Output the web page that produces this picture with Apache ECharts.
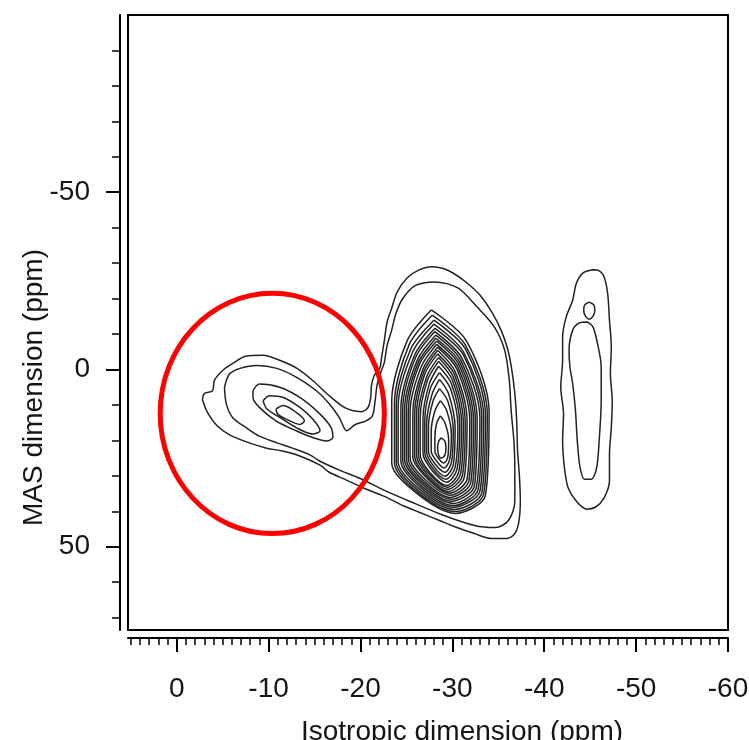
<!DOCTYPE html>
<html><head><meta charset="utf-8">
<script src="https://cdn.jsdelivr.net/npm/echarts@6/dist/echarts.min.js"></script>
<style>html,body{margin:0;padding:0;background:#fff}#c{width:749px;height:740px}</style>
</head><body><div id="c"></div>
<script>
// ---- axis ticks (ppm) ----
const xTicksMajor = [-60, -50, -40, -30, -20, -10, 0];
const xTicksMinor = [-60,-59,-58,-57,-56,-55,-54,-53,-52,-51,-50,-49,-48,-47,-46,-45,-44,-43,-42,-41,-40,-39,-38,-37,-36,-35,-34,-33,-32,-31,-30,-29,-28,-27,-26,-25,-24,-23,-22,-21,-20,-19,-18,-17,-16,-15,-14,-13,-12,-11,-10,-9,-8,-7,-6,-5,-4,-3,-2,-1,0,1,2,3,4,5];
const yTicksMajor = [-50, 0, 50];
const yTicksMinor = [-90,-80,-70,-60,-50,-40,-30,-20,-10,0,10,20,30,40,50,60,70];

// ---- contour lines [isotropic ppm, MAS ppm] ----
const contourOuter = [[-2.8,8.5],[-3.0,6.8],[-3.9,6.0],[-4.1,3.1],[-5.0,0.3],[-6.1,-1.7],[-7.5,-3.7],[-9.4,-4.0],[-11.2,-2.6],[-13.1,-0.3],[-14.8,3.1],[-16.6,7.4],[-18.1,10.5],[-19.1,11.6],[-20.1,11.9],[-20.8,10.8],[-21.1,8.2],[-21.2,4.5],[-21.5,1.7],[-22.1,-0.3],[-22.3,-3.4],[-22.6,-8.2],[-22.9,-13.4],[-23.4,-17.3],[-24.0,-21.9],[-25.1,-25.9],[-26.4,-28.1],[-27.8,-29.0],[-29.1,-28.4],[-30.2,-27.0],[-31.6,-24.4],[-33.0,-21.0],[-34.3,-16.2],[-35.3,-11.1],[-36.0,-6.0],[-36.4,-1.1],[-36.8,6.8],[-37.0,14.5],[-37.1,23.0],[-37.3,30.1],[-37.4,37.2],[-37.2,43.5],[-36.7,46.6],[-35.7,47.7],[-34.3,47.7],[-32.4,46.3],[-30.2,44.3],[-28.6,42.6],[-26.4,40.3],[-24.8,38.6],[-22.6,35.8],[-20.4,33.5],[-18.3,31.0],[-16.6,29.0],[-15.6,27.0],[-13.4,24.4],[-11.5,23.0],[-9.8,22.2],[-7.9,20.7],[-5.8,18.5],[-4.4,15.9],[-3.3,11.9],[-2.8,8.5]];
const contourSecond = [[-5.2,5.1],[-5.4,3.1],[-5.8,1.1],[-6.9,-0.3],[-8.7,-1.1],[-10.9,-0.3],[-13.1,2.3],[-15.2,6.0],[-16.6,9.7],[-17.7,13.6],[-18.5,17.3],[-19.4,15.6],[-20.6,14.5],[-21.3,13.1],[-21.6,8.8],[-21.8,4.5],[-22.2,0.9],[-22.6,-2.0],[-22.9,-6.8],[-23.4,-11.1],[-23.8,-15.3],[-24.5,-19.6],[-25.9,-23.6],[-28.1,-24.7],[-30.6,-23.0],[-32.7,-17.6],[-34.6,-11.9],[-35.7,-5.4],[-36.2,3.1],[-36.4,11.6],[-36.7,20.2],[-36.8,27.8],[-36.8,37.2],[-36.1,42.6],[-34.7,44.6],[-32.4,44.0],[-28.8,40.9],[-25.1,36.9],[-22.6,34.1],[-19.9,30.7],[-17.7,28.4],[-15.6,25.9],[-14.5,24.1],[-12.6,22.2],[-10.9,20.7],[-9.0,18.8],[-7.6,16.5],[-6.1,13.6],[-5.4,9.7],[-5.2,5.1]];

const alOAlRings = [
  [[-8.3,6.0],[-9.0,4.1],[-11.2,5.0],[-13.4,7.9],[-15.6,12.6],[-16.8,16.4],[-17.0,19.2],[-16.3,20.2],[-14.8,19.2],[-13.0,17.3],[-10.8,14.5],[-9.0,10.7],[-8.3,7.9],[-8.3,6.0]],
  [[-9.4,8.8],[-10.1,7.4],[-11.6,7.9],[-13.4,10.7],[-14.8,14.0],[-15.6,17.3],[-14.8,18.2],[-13.0,16.4],[-11.2,13.5],[-9.8,11.1],[-9.4,8.8]],
  [[-10.8,11.2],[-11.6,10.2],[-13.0,12.1],[-13.9,14.5],[-13.4,15.5],[-11.9,14.0],[-11.0,12.6],[-10.8,11.2]]
];

const siOAlRings = [
  [[-27.7,-16.8],[-31.5,-8.2],[-34.0,11.9],[-33.6,35.5],[-30.3,40.6],[-26.1,34.9],[-23.4,26.3],[-23.4,9.0],[-25.1,-8.2],[-27.7,-16.8]],
  [[-27.8,-15.3],[-31.4,-7.0],[-33.8,12.4],[-33.4,35.2],[-30.3,40.1],[-26.2,34.6],[-23.7,26.3],[-23.7,9.6],[-25.3,-7.0],[-27.8,-15.3]],
  [[-28.0,-13.9],[-31.4,-5.9],[-33.6,12.8],[-33.2,34.8],[-30.2,39.5],[-26.3,34.2],[-23.9,26.2],[-23.9,10.1],[-25.5,-5.9],[-28.0,-13.9]],
  [[-28.0,-12.8],[-31.2,-5.0],[-33.4,13.1],[-33.0,34.3],[-30.1,38.9],[-26.4,33.7],[-24.1,26.0],[-24.1,10.5],[-25.7,-5.0],[-28.0,-12.8]],
  [[-28.1,-11.6],[-31.2,-4.1],[-33.2,13.4],[-32.8,33.9],[-30.1,38.4],[-26.6,33.4],[-24.4,25.9],[-24.4,10.9],[-25.9,-4.1],[-28.1,-11.6]],
  [[-28.1,-10.7],[-31.0,-3.4],[-33.0,13.6],[-32.6,33.4],[-30.1,37.8],[-26.7,33.0],[-24.6,25.7],[-24.6,11.1],[-26.0,-3.4],[-28.1,-10.7]],
  [[-28.2,-9.7],[-30.9,-2.7],[-32.7,13.8],[-32.4,32.9],[-29.9,37.2],[-26.8,32.5],[-24.8,25.5],[-24.8,11.4],[-26.2,-2.7],[-28.2,-9.7]],
  [[-28.2,-8.8],[-30.8,-2.0],[-32.5,13.9],[-32.2,32.4],[-29.9,36.6],[-26.9,32.1],[-25.0,25.3],[-25.0,11.6],[-26.3,-2.0],[-28.2,-8.8]],
  [[-28.3,-8.0],[-30.7,-1.4],[-32.3,14.1],[-32.0,31.9],[-29.8,36.1],[-27.0,31.7],[-25.2,25.1],[-25.2,11.8],[-26.4,-1.4],[-28.3,-8.0]],
  [[-28.3,-7.1],[-30.6,-0.7],[-32.1,14.2],[-31.8,31.4],[-29.8,35.5],[-27.1,31.2],[-25.4,24.9],[-25.4,12.1],[-26.6,-0.7],[-28.3,-7.1]],
  [[-28.4,-6.3],[-30.5,-0.1],[-31.9,14.3],[-31.6,30.9],[-29.7,34.9],[-27.3,30.8],[-25.7,24.6],[-25.7,12.2],[-26.8,-0.1],[-28.4,-6.3]],
  [[-28.4,-5.4],[-30.3,0.6],[-31.6,14.5],[-31.3,30.4],[-29.6,34.4],[-27.3,30.4],[-25.9,24.5],[-25.9,12.5],[-26.9,0.6],[-28.4,-5.4]],
  [[-28.4,-4.4],[-30.2,1.3],[-31.4,14.7],[-31.1,29.9],[-29.5,33.8],[-27.4,30.0],[-26.1,24.3],[-26.1,12.8],[-27.0,1.3],[-28.4,-4.4]],
  [[-28.5,-3.4],[-30.1,2.1],[-31.2,14.9],[-30.9,29.4],[-29.5,33.2],[-27.5,29.5],[-26.3,24.1],[-26.3,13.1],[-27.2,2.1],[-28.5,-3.4]],
  [[-28.5,-2.3],[-30.0,3.0],[-31.0,15.2],[-30.7,28.9],[-29.4,32.7],[-27.6,29.2],[-26.5,24.0],[-26.5,13.5],[-27.3,3.0],[-28.5,-2.3]],
  [[-28.5,-0.9],[-29.9,4.0],[-30.8,15.5],[-30.5,28.2],[-29.4,31.8],[-27.8,28.5],[-26.8,23.6],[-26.8,13.8],[-27.5,4.0],[-28.5,-0.9]],
  [[-28.6,0.9],[-29.8,5.4],[-30.6,16.0],[-30.3,27.6],[-29.3,31.0],[-27.9,28.0],[-27.0,23.5],[-27.0,14.4],[-27.6,5.4],[-28.6,0.9]],
  [[-28.6,2.8],[-29.6,6.9],[-30.3,16.5],[-30.1,26.9],[-29.2,30.1],[-28.0,27.4],[-27.2,23.3],[-27.2,15.1],[-27.8,6.9],[-28.6,2.8]],
  [[-28.6,5.4],[-29.5,8.9],[-30.1,17.2],[-29.9,26.2],[-29.2,29.0],[-28.1,26.6],[-27.4,23.1],[-27.4,16.0],[-27.9,8.9],[-28.6,5.4]],
  [[-28.7,8.8],[-29.4,11.7],[-29.9,18.3],[-29.7,25.5],[-29.1,27.8],[-28.3,25.9],[-27.7,23.1],[-27.7,17.4],[-28.1,11.7],[-28.7,8.8]],
  [[-28.7,13.1],[-29.2,15.1],[-29.6,19.8],[-29.5,24.8],[-29.1,26.4],[-28.5,25.1],[-28.1,23.1],[-28.1,19.1],[-28.3,15.1],[-28.7,13.1]],
  [[-28.8,19.3],[-29.2,20.3],[-29.3,22.2],[-29.2,24.1],[-28.8,25.0],[-28.5,24.1],[-28.4,22.2],[-28.5,20.3],[-28.8,19.3]]
];

const siOSiRings = [
  [[-45.3,-28.1],[-46.0,-27.8],[-46.5,-26.2],[-46.9,-21.5],[-47.1,-13.9],[-47.3,-6.3],[-47.2,1.2],[-47.4,8.8],[-47.3,16.4],[-47.1,23.9],[-47.1,31.5],[-46.5,36.3],[-45.6,38.8],[-44.6,39.4],[-43.5,37.2],[-42.6,33.4],[-42.2,27.8],[-42.0,20.2],[-42.1,12.6],[-41.8,5.0],[-42.0,-2.6],[-42.0,-9.2],[-42.4,-14.9],[-43.1,-19.6],[-43.5,-24.3],[-44.2,-27.2],[-45.3,-28.1]],
  [[-44.7,-13.4],[-45.3,-12.0],[-45.8,-7.3],[-46.2,-0.7],[-46.2,8.8],[-46.0,19.2],[-45.7,27.8],[-45.1,31.0],[-44.4,31.0],[-43.9,27.6],[-43.6,20.2],[-43.4,11.6],[-43.1,4.1],[-42.8,-0.7],[-42.7,-5.4],[-43.1,-11.1],[-43.8,-13.1],[-44.7,-13.4]],
  [[-44.9,-19.0],[-45.4,-18.2],[-45.5,-16.6],[-45.3,-15.0],[-44.9,-14.2],[-44.5,-15.0],[-44.3,-16.6],[-44.4,-18.2],[-44.9,-19.0]]
];

// ---- annotations ----
const peakLabels = ['Al-O-Al', 'Si-O-Al', 'Si-O-Si'];
const peakLabelPos = [[-10.0, -11.1], [-28.3, -35.1], [-45.5, -35.1]];
const highlightCenter = [-10.4, 12.4];
const highlightRadii = [12.2, 33.9];

const FONT = "'Liberation Sans', Arial, Helvetica, sans-serif";
const INK = '#151515';

function contourSeries(pts) {
  return {
    type: 'line', data: pts, xAxisIndex: 0, yAxisIndex: 0,
    showSymbol: false, symbol: 'none', smooth: 0.3,
    lineStyle: { color: '#222222', width: 1.5 },
    silent: true, animation: false, z: 3
  };
}

const series = [];
[contourOuter, contourSecond].concat(alOAlRings, siOAlRings, siOSiRings)
  .forEach(r => series.push(contourSeries(r)));

series.push({
  type: 'scatter', xAxisIndex: 0, yAxisIndex: 0,
  data: peakLabelPos.map((p, i) => ({ value: p, name: peakLabels[i] })),
  symbolSize: 1, itemStyle: { opacity: 0 }, silent: true, animation: false,
  label: { show: true, position: 'inside', formatter: '{b}', fontSize: 28, color: INK, fontFamily: FONT },
  z: 4
});

series.push({
  type: 'custom', xAxisIndex: 0, yAxisIndex: 0, silent: true, animation: false, clip: false, z: 10,
  data: [[highlightCenter[0], highlightCenter[1], highlightRadii[0], highlightRadii[1]]],
  renderItem: function (params, api) {
    const c = api.coord([api.value(0), api.value(1)]);
    const s = api.size([api.value(2), api.value(3)]);
    return {
      type: 'ellipse',
      shape: { cx: c[0], cy: c[1], rx: s[0], ry: s[1] },
      style: { fill: null, stroke: '#ff0000', lineWidth: 5 }
    };
  }
});

const xBase = { type: 'value', min: -60, max: 5.3, inverse: true, position: 'bottom', offset: 8, gridIndex: 0, splitLine: { show: false } };
const yBase = { type: 'value', min: -100, max: 73.5, inverse: true, position: 'left', offset: 8, gridIndex: 0, splitLine: { show: false } };

const option = {
  animation: false,
  backgroundColor: '#ffffff',
  textStyle: { fontFamily: FONT, color: INK },
  grid: { left: 128, top: 15, width: 600, height: 615, show: true, borderColor: '#000', borderWidth: 2, backgroundColor: 'transparent', outerBoundsMode: 'none', containLabel: false },
  xAxis: [
    Object.assign({}, xBase, {
      axisLine: { show: true, onZero: false, lineStyle: { color: '#000', width: 2 } },
      axisTick: { show: true, customValues: xTicksMinor, length: 7, lineStyle: { color: '#000', width: 1.5 } },
      axisLabel: { show: false }
    }),
    Object.assign({}, xBase, {
      axisLine: { show: false, onZero: false },
      axisTick: { show: true, customValues: xTicksMajor, length: 14, lineStyle: { color: '#000', width: 2 } },
      axisLabel: { show: true, customValues: xTicksMajor, fontSize: 28, margin: 37, color: INK, fontFamily: FONT },
      name: 'Isotropic dimension (ppm)', nameLocation: 'middle', nameGap: 80, nameMoveOverlap: false,
      nameTextStyle: { fontSize: 28, color: INK, fontFamily: FONT, padding: [0, 0, 0, 68] }
    })
  ],
  yAxis: [
    Object.assign({}, yBase, {
      axisLine: { show: true, onZero: false, lineStyle: { color: '#000', width: 2 } },
      axisTick: { show: true, customValues: yTicksMinor, length: 8, lineStyle: { color: '#000', width: 1.5 } },
      axisLabel: { show: false }
    }),
    Object.assign({}, yBase, {
      axisLine: { show: false, onZero: false },
      axisTick: { show: true, customValues: yTicksMajor, length: 14, lineStyle: { color: '#000', width: 2 } },
      axisLabel: { show: true, customValues: yTicksMajor, fontSize: 28, margin: 30, color: INK, fontFamily: FONT },
      name: 'MAS dimension (ppm)', nameLocation: 'middle', nameGap: 72, nameRotate: 90, nameMoveOverlap: false,
      nameTextStyle: { fontSize: 28, color: INK, fontFamily: FONT, padding: [0, 130, 0, 0] }
    })
  ],
  series: series
};

const chart = echarts.init(document.getElementById('c'), null, { renderer: 'canvas' });
chart.setOption(option);
</script>
</body></html>
